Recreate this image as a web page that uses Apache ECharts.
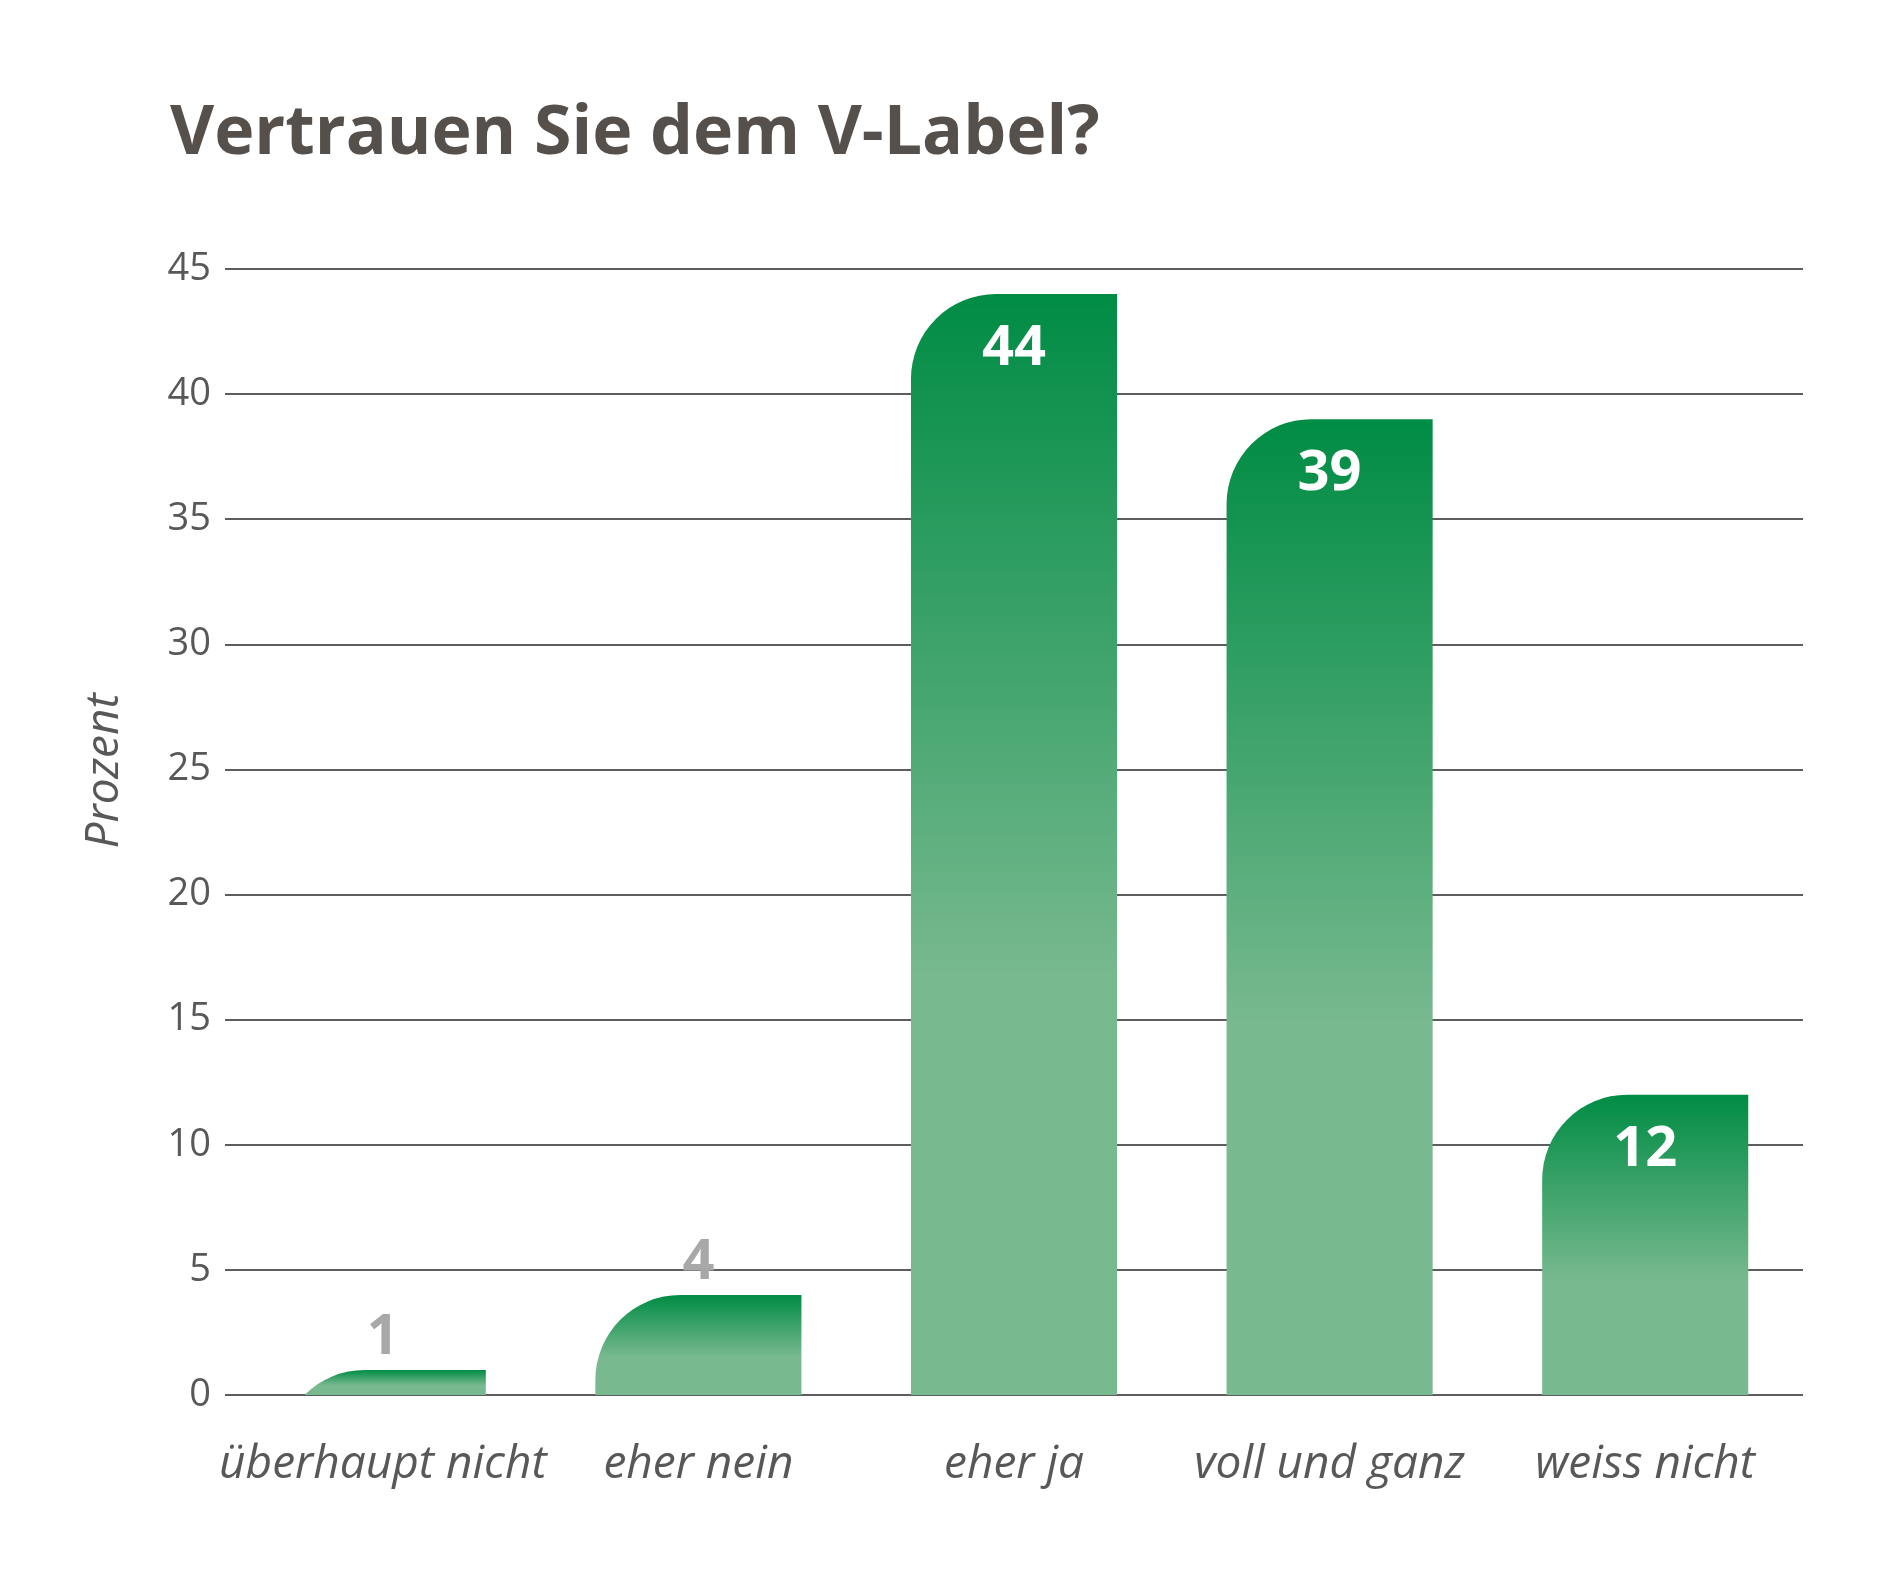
<!DOCTYPE html>
<html>
<head>
<meta charset="utf-8">
<script src="https://cdn.jsdelivr.net/npm/echarts@6/dist/echarts.min.js"></script>
<style>
  html, body { margin: 0; padding: 0; background: #fff; }
  #chart { width: 1890px; height: 1595px; }
</style>
</head>
<body>
<div id="chart"></div>
<script>
// data
var categories = ['überhaupt nicht', 'eher nein', 'eher ja', 'voll und ganz', 'weiss nicht'];
var values = [1, 4, 44, 39, 12];
var yMin = 0, yMax = 45, yStep = 5;

var DARK = '#008C44';
var LIGHT = '#78B98F';
var TEXT = '#58585A';
var FONT = '"Open Sans", "DejaVu Sans", sans-serif';

var chart = echarts.init(document.getElementById('chart'), null, { renderer: 'canvas' });

// bar with one big rounded top-left corner, extended below the axis and clipped
function renderBar(params, api) {
  var v = api.value(1);
  var top = api.coord([api.value(0), v]);
  var base = api.coord([api.value(0), 0]);
  var bw = api.size([1, 0])[0] * 0.653;
  var h = base[1] - top[1];
  var r = 85;
  var stop = Math.min(1, 0.62 * h / (h + r));
  var kids = [{
    type: 'rect',
    shape: { x: top[0] - bw / 2, y: top[1], width: bw, height: h + r, r: [r, 0, 0, 0] },
    style: {
      fill: new echarts.graphic.LinearGradient(0, 0, 0, 1, [
        { offset: 0, color: DARK },
        { offset: stop, color: LIGHT },
        { offset: 1, color: LIGHT }
      ])
    }
  }];
  var inside = v >= 10;
  kids.push({
    type: 'text',
    x: top[0],
    y: inside ? top[1] + 55 : top[1] - 32,
    style: {
      text: String(v),
      fill: inside ? '#ffffff' : '#A8A8A8',
      fontSize: 56,
      fontWeight: 'bold',
      fontFamily: FONT,
      align: 'center',
      verticalAlign: 'middle'
    }
  });
  return { type: 'group', children: kids };
}

var option = {
  backgroundColor: '#ffffff',
  animation: false,
  title: {
    text: 'Vertrauen Sie dem V-Label?',
    left: 165,
    top: 96,
    textStyle: { fontFamily: FONT, fontSize: 68, fontWeight: 'bold', color: '#55504C' }
  },
  grid: { left: 225, right: 87, top: 269, bottom: 200 },
  xAxis: {
    type: 'category',
    data: categories,
    axisLine: { show: false },
    axisTick: { show: false },
    axisLabel: {
      interval: 0,
      margin: 44,
      fontFamily: FONT,
      fontSize: 46,
      fontStyle: 'italic',
      lineHeight: 52,
      color: TEXT
    }
  },
  yAxis: {
    type: 'value',
    min: yMin,
    max: yMax,
    interval: yStep,
    axisLine: { show: false },
    axisTick: { show: false },
    axisLabel: { margin: 14, fontFamily: FONT, fontSize: 38, color: TEXT },
    splitLine: { lineStyle: { color: '#5D5D5D', width: 2 } }
  },
  graphic: [{
    type: 'text',
    x: 105,
    y: 771,
    rotation: Math.PI / 2,
    style: {
      text: 'Prozent',
      fill: TEXT,
      fontFamily: FONT,
      fontSize: 46,
      fontStyle: 'italic',
      align: 'center',
      verticalAlign: 'middle'
    }
  }],
  series: [{
    type: 'custom',
    clip: true,
    renderItem: renderBar,
    encode: { x: 0, y: 1 },
    data: values.map(function (v, i) { return [i, v]; })
  }]
};

chart.setOption(option);
</script>
</body>
</html>
